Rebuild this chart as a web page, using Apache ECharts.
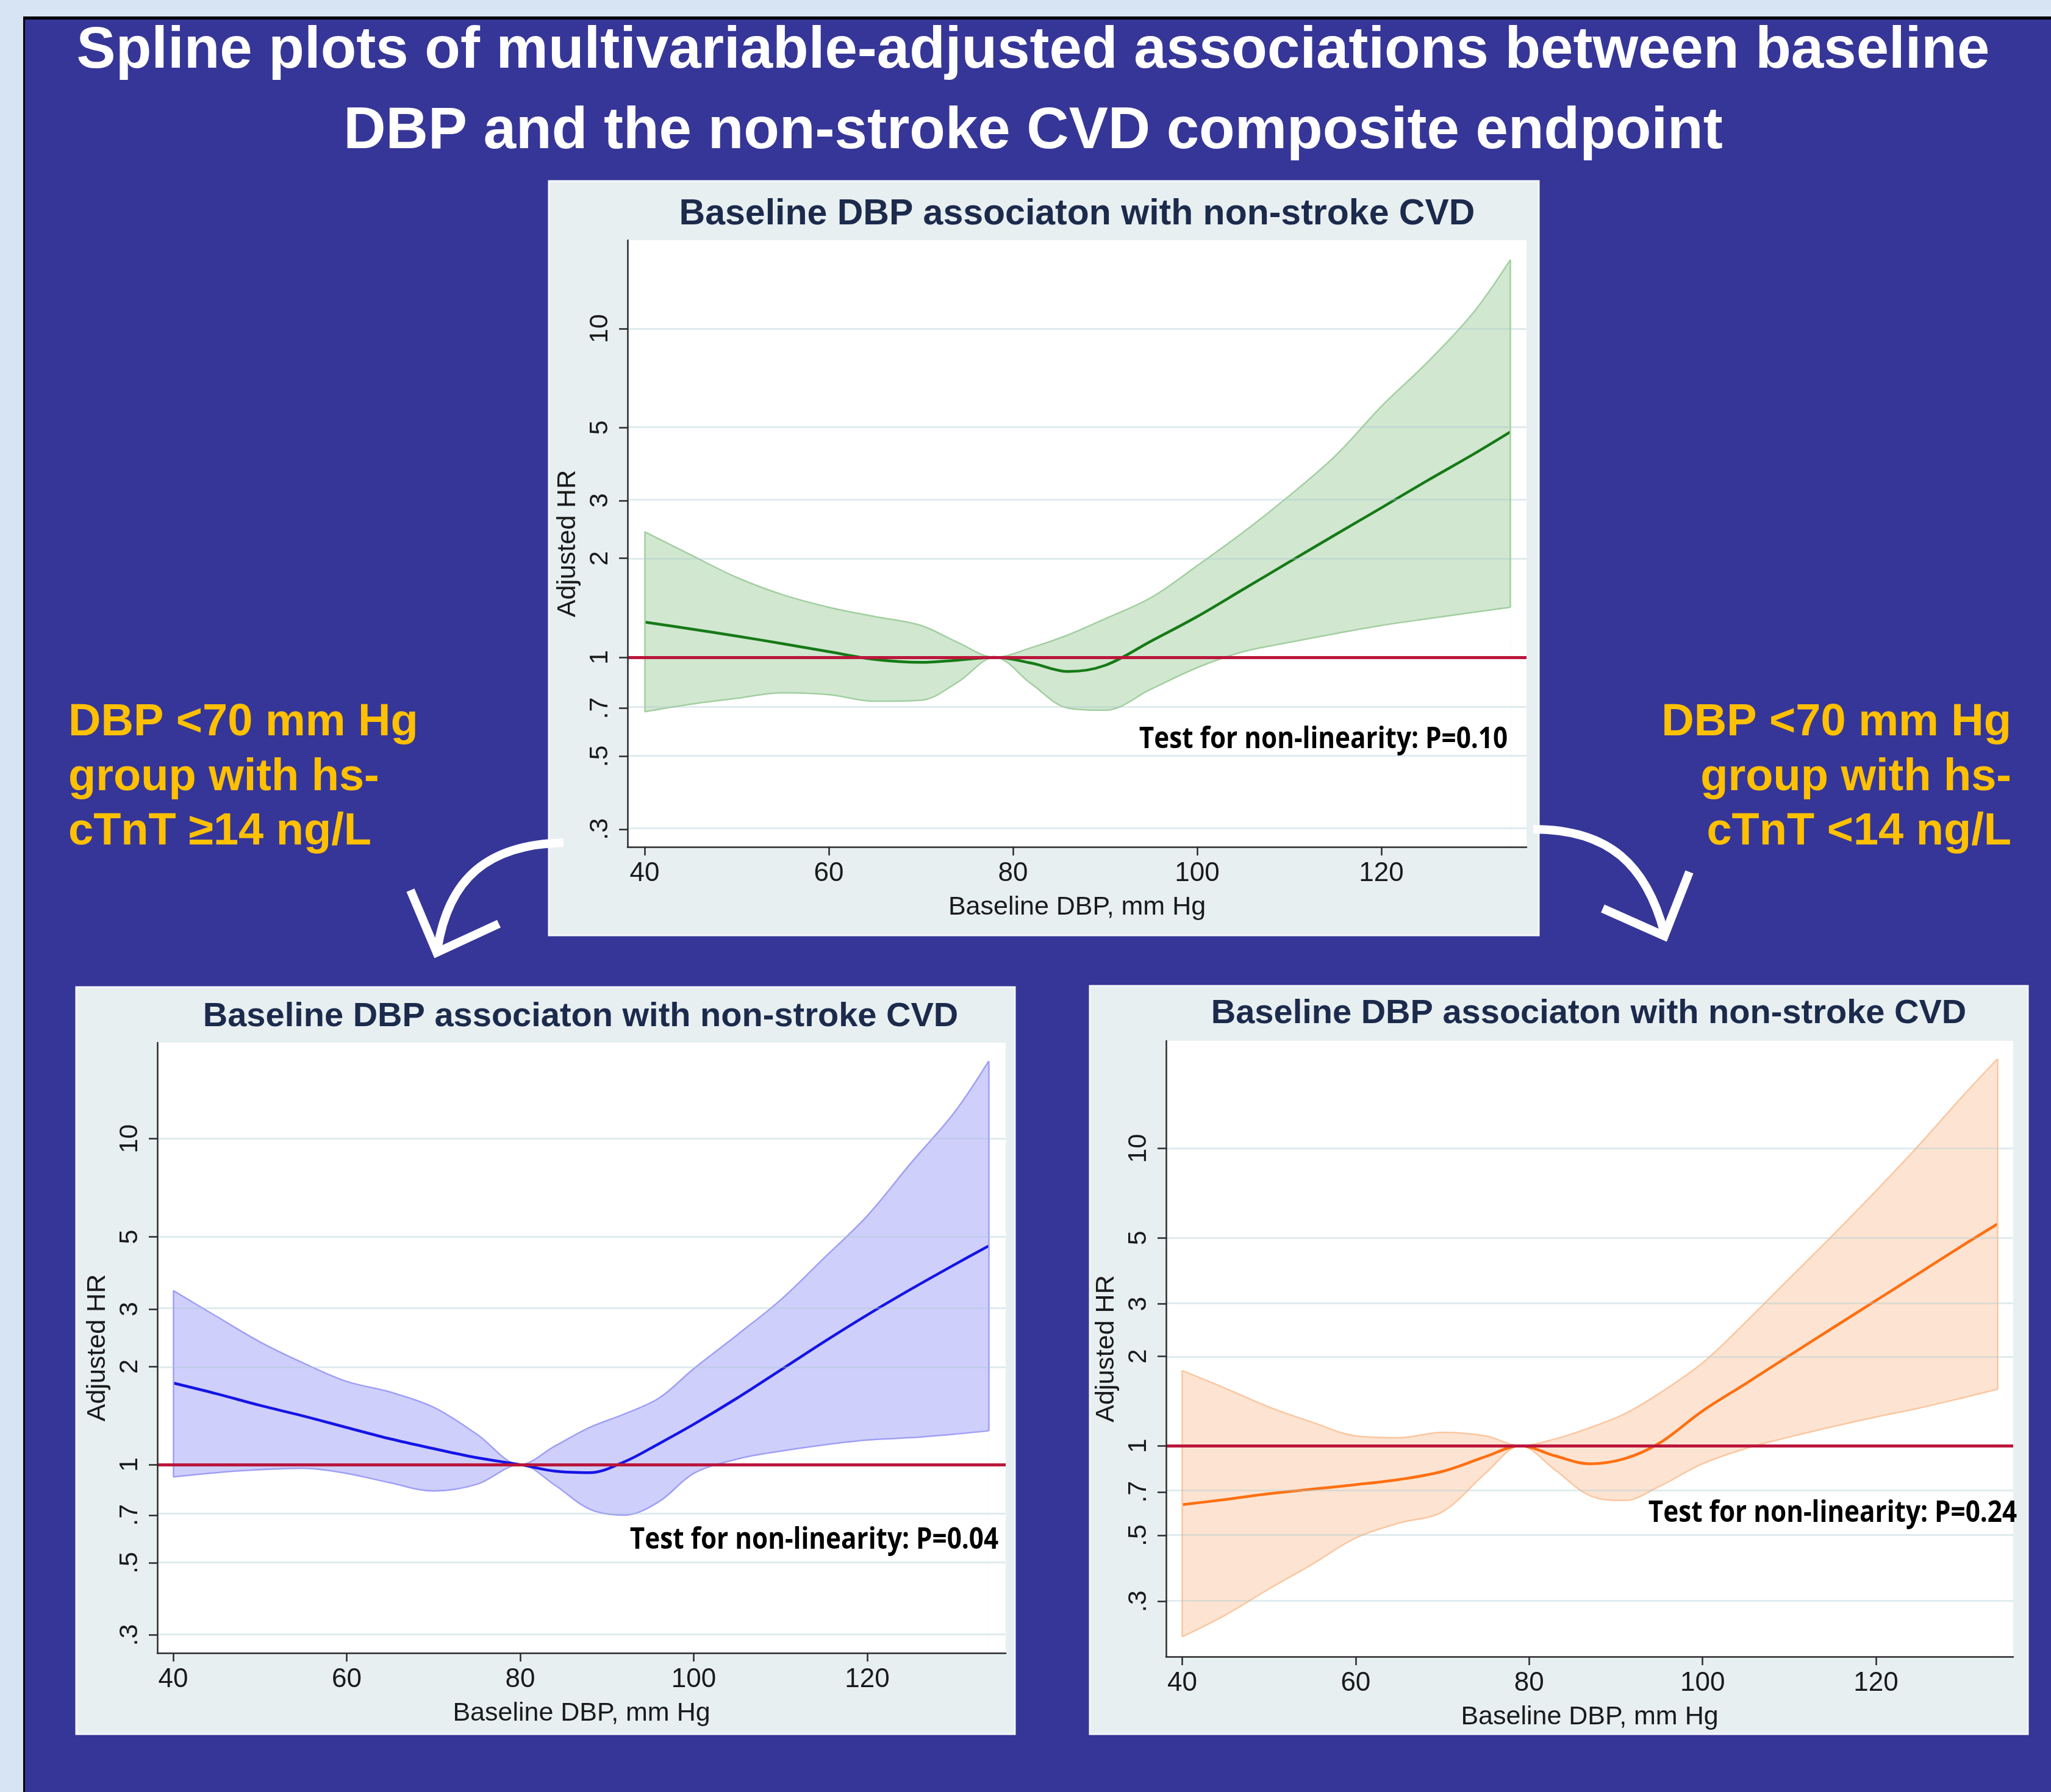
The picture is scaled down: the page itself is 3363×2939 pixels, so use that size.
<!DOCTYPE html>
<html><head><meta charset="utf-8">
<script src="https://cdn.jsdelivr.net/npm/echarts@6/dist/echarts.min.js"></script>
<style>html,body{margin:0;padding:0;background:#d7e4f4}#c{width:3363px;height:2939px}</style>
</head><body><div id="c"></div>
<script>
// ---- tick labels ----
const yTicks = [0.3, 0.5, 0.7, 1, 2, 3, 5, 10];
const yTickLabels = ['.3', '.5', '.7', '1', '2', '3', '5', '10'];
const xTicks = [40, 60, 80, 100, 120];

// ---- text ----
const mainTitle = ['Spline plots of multivariable-adjusted associations between baseline',
                   'DBP and the non-stroke CVD composite endpoint'];
const cardTitle = 'Baseline DBP associaton with non-stroke CVD';
const xName = 'Baseline DBP, mm Hg';
const yName = 'Adjusted HR';
const leftNote = ['DBP <70 mm Hg', 'group with hs-', 'cTnT \u226514 ng/L'];
const rightNote = ['DBP <70 mm Hg', 'group with hs-', 'cTnT <14 ng/L'];
const pTexts = ['Test for non-linearity: P=0.10', 'Test for non-linearity: P=0.04', 'Test for non-linearity: P=0.24'];

// ---- top panel (all) ----
const topX      = [40, 45, 50, 55, 60, 65, 70, 74, 78, 82, 86, 90, 95, 100, 105, 110, 115, 120, 125, 130, 134];
const topCenter = [1.28, 1.22, 1.16, 1.10, 1.04, 0.985, 0.965, 0.98, 1.0, 0.96, 0.905, 0.945, 1.12, 1.33, 1.61, 1.95, 2.36, 2.85, 3.45, 4.15, 4.85];
const topUpper  = [2.41, 2.05, 1.75, 1.55, 1.42, 1.33, 1.25, 1.11, 1.0, 1.07, 1.17, 1.31, 1.52, 1.90, 2.40, 3.10, 4.10, 5.80, 7.90, 11.2, 16.2];
const topLower  = [0.683, 0.72, 0.75, 0.78, 0.77, 0.735, 0.74, 0.84, 1.0, 0.83, 0.70, 0.69, 0.80, 0.93, 1.04, 1.11, 1.18, 1.25, 1.31, 1.37, 1.42];

// ---- bottom-left panel (hs-cTnT >= 14) ----
const blX      = [40, 45, 50, 55, 60, 65, 70, 75, 80, 84, 88, 92, 96, 100, 105, 110, 115, 120, 125, 130, 134];
const blCenter = [1.78, 1.65, 1.52, 1.41, 1.30, 1.20, 1.12, 1.05, 1.0, 0.955, 0.945, 1.02, 1.16, 1.33, 1.60, 1.95, 2.38, 2.88, 3.45, 4.10, 4.69];
const blUpper  = [3.42, 2.85, 2.38, 2.05, 1.80, 1.67, 1.50, 1.24, 1.0, 1.14, 1.30, 1.43, 1.60, 1.97, 2.50, 3.20, 4.30, 5.80, 8.40, 12.0, 17.3];
const blLower  = [0.917, 0.945, 0.965, 0.975, 0.94, 0.88, 0.83, 0.87, 1.0, 0.865, 0.73, 0.70, 0.77, 0.94, 1.04, 1.10, 1.15, 1.19, 1.21, 1.24, 1.27];

// ---- bottom-right panel (hs-cTnT < 14) ----
const brX      = [40, 45, 50, 55, 60, 65, 70, 75, 79, 83, 87, 91, 95, 100, 105, 110, 115, 120, 125, 130, 134];
const brCenter = [0.634, 0.66, 0.69, 0.715, 0.74, 0.77, 0.82, 0.92, 1.0, 0.925, 0.87, 0.905, 1.02, 1.31, 1.62, 2.01, 2.49, 3.08, 3.81, 4.72, 5.57];
const brUpper  = [1.79, 1.56, 1.35, 1.20, 1.08, 1.065, 1.11, 1.08, 1.0, 1.055, 1.15, 1.28, 1.50, 1.90, 2.61, 3.65, 5.10, 7.20, 10.3, 15.0, 20.0];
const brLower  = [0.228, 0.27, 0.33, 0.40, 0.49, 0.55, 0.60, 0.81, 1.0, 0.83, 0.68, 0.655, 0.73, 0.87, 0.98, 1.07, 1.16, 1.25, 1.34, 1.45, 1.55];

const FONT = "'Liberation Sans', Arial, Helvetica, sans-serif";
const L = Math.log10;
const yLog = yTicks.map(L);
function yFmt(v) {
  let best = 0;
  for (let i = 0; i < yLog.length; i++) if (Math.abs(yLog[i] - v) < Math.abs(yLog[best] - v)) best = i;
  return yTickLabels[best];
}

const panels = [
  { card: [900, 297, 1623, 1237], grid: { left: 1029, top: 394, width: 1474, height: 995 },
    xr: [38.15, 135.76], yr: [-0.577, 1.269], titleY: 352, titleX: 1766, titleSize: 59,
    p: { x: 2170, y: 1213 },
    xs: topX, c: topCenter, u: topUpper, lo: topLower,
    line: '#167a16', fill: '#d1e7d0', edge: '#a3cfa0' },
  { card: [125, 1619, 1539, 1225], grid: { left: 258, top: 1710, width: 1391, height: 1001 },
    xr: [38.17, 135.96], yr: [-0.578, 1.295], titleY: 1668, titleX: 952, titleSize: 56,
    p: { x: 1335, y: 2526 },
    xs: blX, c: blCenter, u: blUpper, lo: blLower,
    line: '#1414e6', fill: '#cfcffc', edge: '#9f9ff6' },
  { card: [1787, 1617, 1538, 1227], grid: { left: 1912, top: 1707, width: 1389, height: 1010 },
    xr: [38.14, 135.82], yr: [-0.709, 1.362], titleY: 1663, titleX: 2605, titleSize: 56,
    p: { x: 3005, y: 2482 },
    xs: brX, c: brCenter, u: brUpper, lo: brLower,
    line: '#ff6f10', fill: '#fde4d2', edge: '#fbc6a0' }
];

const grids = [], xAxes = [], yAxes = [], series = [];
const els = [];

els.push({ type: 'rect', shape: { x: 0, y: 0, width: 3363, height: 2939 }, style: { fill: '#d7e4f4' }, z: -100 });
els.push({ type: 'rect', shape: { x: 40, y: 28, width: 3323, height: 2911 }, style: { fill: '#363698' }, z: -99 });
els.push({ type: 'rect', shape: { x: 38, y: 27, width: 3325, height: 5 }, style: { fill: '#000' }, z: -98 });
els.push({ type: 'rect', shape: { x: 38, y: 27, width: 3, height: 2912 }, style: { fill: '#000' }, z: -98 });

mainTitle.forEach((t, i) => {
  els.push({ type: 'text', x: 1694, y: i === 0 ? 85 : 217, z: 50,
    style: { text: t, fill: '#ffffff', font: 'bold 96px ' + FONT, textAlign: 'center', textVerticalAlign: 'middle' } });
});
[1186, 1276, 1365].forEach((y, i) => {
  els.push({ type: 'text', x: 112, y, z: 50,
    style: { text: leftNote[i], fill: '#ffc000', font: 'bold 74px ' + FONT, textAlign: 'left', textVerticalAlign: 'middle' } });
  els.push({ type: 'text', x: 3298, y, z: 50,
    style: { text: rightNote[i], fill: '#ffc000', font: 'bold 74px ' + FONT, textAlign: 'right', textVerticalAlign: 'middle' } });
});

// arrows
const arrowStyle = { stroke: '#ffffff', lineWidth: 14, fill: null, lineCap: 'butt', lineJoin: 'miter' };
els.push({ type: 'bezierCurve', z: 60, shape: { x1: 924, y1: 1382, cpx1: 800, cpy1: 1385, cpx2: 735, cpy2: 1440, x2: 717, y2: 1558 }, style: arrowStyle });
els.push({ type: 'polyline', z: 60, shape: { points: [[673, 1460], [716, 1562], [818, 1515]] }, style: arrowStyle });
els.push({ type: 'bezierCurve', z: 60, shape: { x1: 2514, y1: 1360, cpx1: 2640, cpy1: 1360, cpx2: 2700, cpy2: 1420, x2: 2729, y2: 1530 }, style: arrowStyle });
els.push({ type: 'polyline', z: 60, shape: { points: [[2628, 1490], [2729, 1535], [2770, 1430]] }, style: arrowStyle });

panels.forEach((P, i) => {
  els.push({ type: 'rect', z: -90, shape: { x: P.card[0], y: P.card[1], width: P.card[2], height: P.card[3] },
    style: { fill: '#e7eff1', stroke: '#f4f8f9', lineWidth: 3 } });
  els.push({ type: 'text', x: P.titleX, y: P.titleY, z: 50,
    style: { text: cardTitle, fill: '#1c2a4c', font: 'bold ' + P.titleSize + 'px ' + FONT, textAlign: 'center', textVerticalAlign: 'middle' } });
  els.push({ type: 'text', x: P.p.x, y: P.p.y, z: 50, scaleX: 0.88,
    style: { text: pTexts[i], fill: '#000000', font: "bold 48px 'Open Sans', " + FONT, textAlign: 'center', textVerticalAlign: 'middle' } });

  grids.push(Object.assign({ show: true, backgroundColor: '#ffffff', borderWidth: 0, containLabel: false }, P.grid));
  xAxes.push({
    gridIndex: i, type: 'value', min: P.xr[0], max: P.xr[1], z: 10,
    axisLine: { show: true, onZero: false, lineStyle: { color: '#2a2a2a', width: 2.5 } },
    axisTick: { show: true, length: 14, customValues: xTicks, lineStyle: { color: '#2a2a2a', width: 2.5 } },
    axisLabel: { customValues: xTicks, fontSize: 44, color: '#1a1a1a', margin: 22, fontFamily: FONT },
    splitLine: { show: false },
    name: xName, nameLocation: 'middle', nameGap: 78,
    nameTextStyle: { fontSize: 43, color: '#1a1a1a', fontFamily: FONT }
  });
  yAxes.push({
    gridIndex: i, type: 'value', min: P.yr[0], max: P.yr[1], z: 10,
    axisLine: { show: true, onZero: false, lineStyle: { color: '#2a2a2a', width: 2.5 } },
    axisTick: { show: true, length: 14, customValues: yLog, lineStyle: { color: '#2a2a2a', width: 2.5 } },
    axisLabel: { customValues: yLog, rotate: 90, fontSize: 43, color: '#1a1a1a', margin: 23, fontFamily: FONT, formatter: yFmt },
    splitLine: { show: false },
    name: yName, nameLocation: 'middle', nameGap: 76, nameRotate: 90,
    nameTextStyle: { fontSize: 43, color: '#1a1a1a', fontFamily: FONT }
  });

  const common = { type: 'line', xAxisIndex: i, yAxisIndex: i, silent: true, smooth: 0.35, showSymbol: false, animation: false };
  const n = P.xs.length - 1;
  // upper bound: band colour filled down to the axis
  series.push(Object.assign({}, common, {
    z: 1, data: P.xs.map((x, k) => [x, L(P.u[k])]),
    lineStyle: { color: P.edge, width: 2.5 },
    areaStyle: { color: P.fill, opacity: 1, origin: 'start' }
  }));
  // lower bound: plot-region colour filled down to the axis, so the band lies between the bounds
  series.push(Object.assign({}, common, {
    z: 2, data: P.xs.map((x, k) => [x, L(P.lo[k])]),
    lineStyle: { color: P.edge, width: 2.5 },
    areaStyle: { color: '#ffffff', opacity: 1, origin: 'start' },
    markLine: {
      silent: true, symbol: 'none', label: { show: false }, animation: false,
      lineStyle: { color: P.edge, width: 2.5, type: 'solid' },
      data: [
        [{ coord: [P.xs[0], L(P.u[0])] }, { coord: [P.xs[0], L(P.lo[0])] }],
        [{ coord: [P.xs[n], L(P.u[n])] }, { coord: [P.xs[n], L(P.lo[n])] }]
      ]
    }
  }));
  // grid lines and reference line at HR = 1
  series.push(Object.assign({}, common, {
    z: 3, data: P.xs.map((x, k) => [x, L(P.c[k])]),
    lineStyle: { opacity: 0, width: 0 },
    markLine: {
      silent: true, symbol: 'none', label: { show: false }, animation: false,
      data: yLog.filter(v => v !== 0).map(v => ({ yAxis: v, lineStyle: { color: 'rgba(170,200,208,0.36)', width: 3, type: 'solid' } }))
        .concat([{ yAxis: 0, lineStyle: { color: '#bb163c', width: 5, type: 'solid' } }])
    }
  }));
  // fitted spline
  series.push(Object.assign({}, common, {
    z: 4, data: P.xs.map((x, k) => [x, L(P.c[k])]),
    lineStyle: { color: P.line, width: 4.5 }
  }));
});

const chart = echarts.init(document.getElementById('c'), null, { width: 3363, height: 2939, renderer: 'canvas' });
chart.setOption({
  animation: false,
  backgroundColor: '#d7e4f4',
  graphic: { elements: els },
  grid: grids, xAxis: xAxes, yAxis: yAxes, series
});
</script></body></html>
